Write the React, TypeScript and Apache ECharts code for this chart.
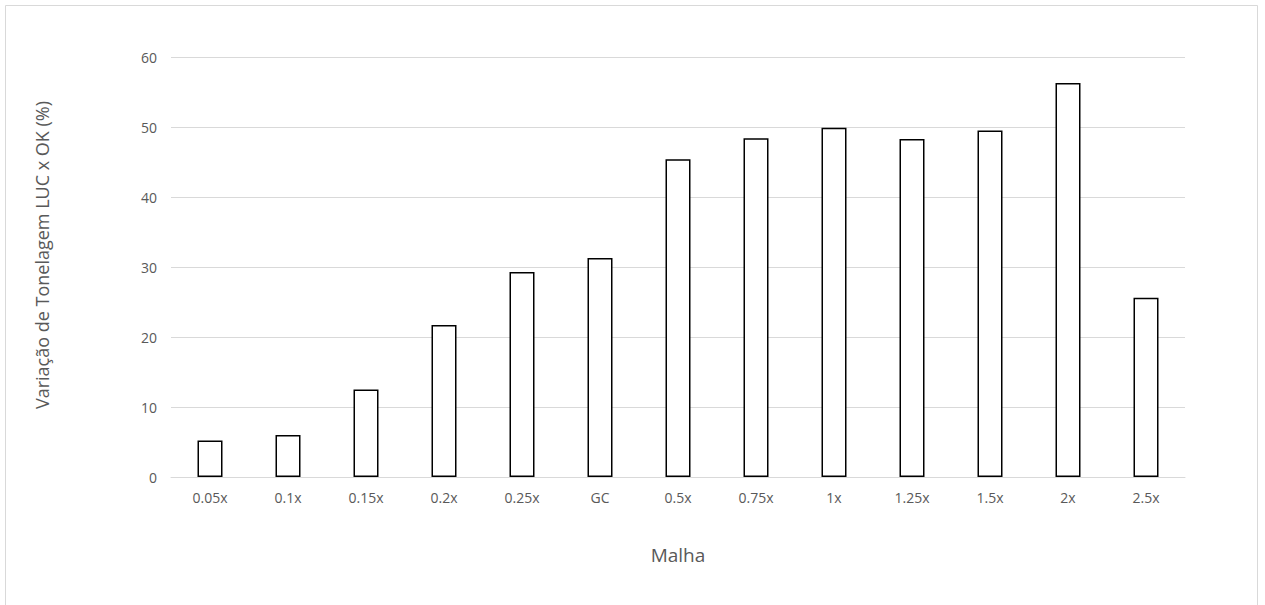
import React, { useEffect, useRef } from "react";
import * as echarts from "echarts";

const categories = ["0.05x", "0.1x", "0.15x", "0.2x", "0.25x", "GC", "0.5x", "0.75x", "1x", "1.25x", "1.5x", "2x", "2.5x"];
const values = [5.2, 6.0, 12.5, 21.7, 29.3, 31.3, 45.4, 48.4, 49.9, 48.3, 49.5, 56.3, 25.6];
const yTicks = { min: 0, max: 60, interval: 10 };
const xTitle = "Malha";
const yTitle = "Variação de Tonelagem LUC x OK (%)";

export default function App() {
  const ref = useRef<HTMLDivElement>(null);
  useEffect(() => {
    if (!ref.current) return;
    const chart = echarts.init(ref.current, null, { renderer: "svg" });
    const font = "'Open Sans', 'Noto Sans', sans-serif";
    chart.setOption({
      animation: false,
      backgroundColor: "#ffffff",
      textStyle: { fontFamily: font },
      graphic: [
        {
          type: "rect",
          shape: { x: 5.5, y: 5.5, width: 1252, height: 640 },
          style: { fill: "none", stroke: "#d9d9d9", lineWidth: 1 },
          silent: true,
        },
        {
          type: "text",
          x: 42,
          y: 255,
          rotation: Math.PI / 2,
          style: {
            text: yTitle,
            fill: "#595959",
            fontSize: 18,
            fontFamily: font,
            align: "center",
            verticalAlign: "middle",
          },
          silent: true,
        },
      ],
      grid: { left: 171, right: 80, top: 57, bottom: 128, containLabel: false },
      xAxis: {
        type: "category",
        data: categories,
        axisLine: { show: true, lineStyle: { color: "#d9d9d9", width: 1 } },
        axisTick: { show: false },
        axisLabel: { color: "#595959", fontSize: 14, margin: 13, fontFamily: font },
        name: xTitle,
        nameLocation: "middle",
        nameGap: 68,
        nameTextStyle: { color: "#595959", fontSize: 19, fontFamily: font },
      },
      yAxis: {
        type: "value",
        min: yTicks.min,
        max: yTicks.max,
        interval: yTicks.interval,
        axisLine: { show: false },
        axisTick: { show: false },
        splitLine: { lineStyle: { color: "#d9d9d9", width: 1 } },
        axisLabel: { color: "#595959", fontSize: 14, margin: 14, fontFamily: font },
      },
      series: [
        {
          type: "bar",
          data: values,
          barWidth: 25,
          itemStyle: { color: "#ffffff", borderColor: "#000000", borderWidth: 1.5 },
        },
      ],
    });
    return () => chart.dispose();
  }, []);
  return (
    <div
      ref={ref}
      style={{ position: "fixed", left: 0, top: 0, width: 1265, height: 605 }}
    />
  );
}
